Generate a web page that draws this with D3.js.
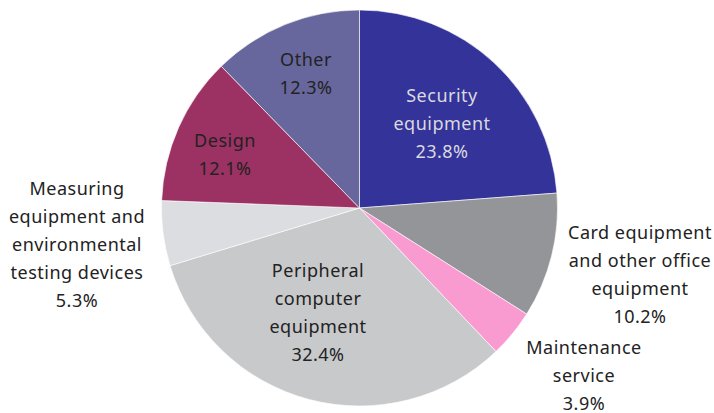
<!DOCTYPE html>
<html>
<head>
<meta charset="utf-8">
<script src="https://cdn.jsdelivr.net/npm/d3@7"></script>
<style>
  body { margin: 0; background: #fff; }
  text { font-family: "Noto Sans", "DejaVu Sans", sans-serif; }
</style>
</head>
<body>
<div class="box"></div>
<script>
// data (percent shares, clockwise from 12 o'clock)
const categories = ['Security equipment', 'Card equipment and other office equipment', 'Maintenance service',
                    'Peripheral computer equipment', 'Measuring equipment and environmental testing devices',
                    'Design', 'Other'];
const shares = [23.8, 10.2, 3.9, 32.4, 5.3, 12.1, 12.3];
const labelLines = [
  ['Security', 'equipment'],
  ['Card equipment', 'and other office', 'equipment'],
  ['Maintenance', 'service'],
  ['Peripheral', 'computer', 'equipment'],
  ['Measuring', 'equipment and', 'environmental', 'testing devices'],
  ['Design'],
  ['Other']
];

const colours = ['#33339a', '#939598', '#f99bd1', '#c8c9cb', '#dcdde0', '#9b3263', '#67679d'];
const textColours = ['#d9d9de', '#222', '#222', '#222', '#222', '#222', '#222'];
// label block centres
const labelAt = [[442, 124], [640, 275], [584, 376], [318, 313], [77, 245], [225, 155], [306, 74]];

const width = 714, height = 413;
const cx = 359.5, cy = 208, radius = 198;
const lineH = 28;

const svg = d3.select('.box')
              .append('svg')
              .attr('width', width)
              .attr('height', height);

const data = categories.map((c, i) => ({ cat: c, value: shares[i], i: i }));

const pie = d3.pie()
              .value(d => d.value)
              .sort(null);

const arc = d3.arc()
              .innerRadius(0)
              .outerRadius(radius);

const graph = svg.append('g')
                 .attr('transform', `translate(${cx}, ${cy})`);

graph.selectAll('path')
     .data(pie(data))
     .enter()
     .append('path')
     .attr('d', arc)
     .attr('fill', d => colours[d.data.i])
     .attr('stroke', '#fff')
     .attr('stroke-width', 0.6);

// labels
const labels = svg.selectAll('text.lbl')
                  .data(data)
                  .enter()
                  .append('text')
                  .attr('class', 'lbl')
                  .attr('text-anchor', 'middle')
                  .attr('fill', d => textColours[d.i])
                  .style('font-size', '18px')
                  .style('letter-spacing', '0.5px');

labels.each(function(d) {
  const lines = labelLines[d.i].concat([d.value.toFixed(1) + '%']);
  const [lx, ly] = labelAt[d.i];
  const top = ly - (lines.length - 1) * lineH / 2;
  d3.select(this).selectAll('tspan')
    .data(lines)
    .enter()
    .append('tspan')
    .attr('x', lx)
    .attr('y', (t, k) => top + k * lineH)
    .attr('dy', '0.35em')
    .text(t => t);
});
</script>
</body>
</html>
